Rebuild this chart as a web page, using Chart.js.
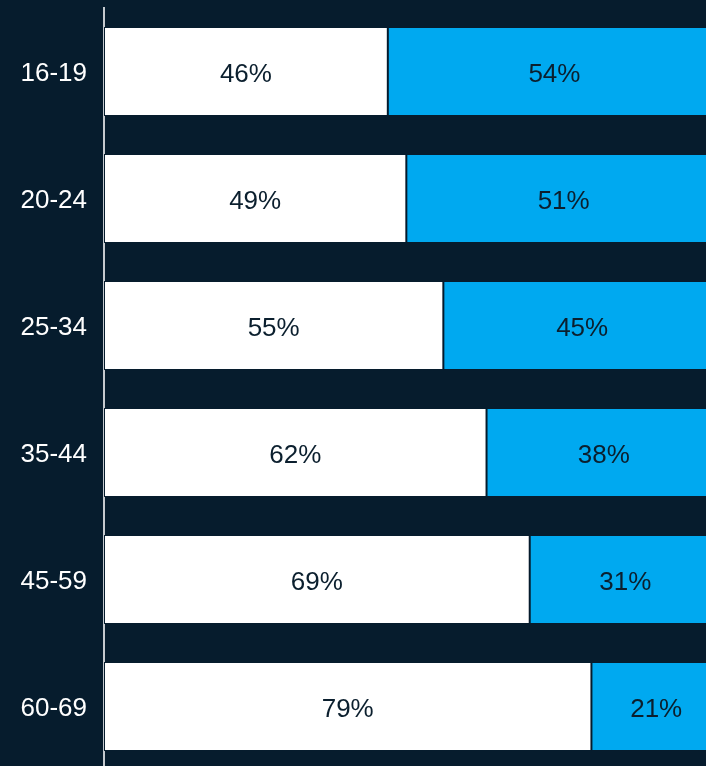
<!DOCTYPE html>
<html>
<head>
<meta charset="utf-8">
<script src="https://cdn.jsdelivr.net/npm/chart.js@4/dist/chart.umd.min.js"></script>
<style>
  html, body { margin: 0; padding: 0; background: #061c2d; overflow: hidden; }
  #wrap { width: 706px; height: 766px; overflow: hidden; }
</style>
</head>
<body>
<div id="wrap"><canvas id="ageChart" width="721" height="770"></canvas></div>
<script>
// age groups and the two shares per group (percent)
const ageGroups = ['16-19', '20-24', '25-34', '35-44', '45-59', '60-69'];
const whiteShare = [46, 49, 55, 62, 69, 79];
const blueShare = [54, 51, 45, 38, 31, 21];

const bgColor = '#061c2d';
const fontFamily = "'Liberation Sans', Arial, sans-serif";

// draws the % text in the middle of every segment
const segmentLabels = {
    id: 'segmentLabels',
    afterDatasetsDraw(chart) {
        const ctx = chart.ctx;
        ctx.save();
        ctx.font = '26px ' + fontFamily;
        ctx.fillStyle = '#0b1f2e';
        ctx.textAlign = 'center';
        ctx.textBaseline = 'middle';
        chart.data.datasets.forEach(function(ds, i) {
            chart.getDatasetMeta(i).data.forEach(function(bar, j) {
                const x = (bar.x + bar.base) / 2;
                ctx.fillText(ds.data[j] + '%', x, bar.y + 3);
            });
        });
        ctx.restore();
    }
};

new Chart(document.getElementById('ageChart'), {
    type: 'bar',
    data: {
        labels: ageGroups,
        datasets: [
            {
                data: whiteShare,
                backgroundColor: '#ffffff',
                borderColor: bgColor,
                borderWidth: 1,
                borderSkipped: false
            },
            {
                data: blueShare,
                backgroundColor: '#00a9f0',
                borderColor: bgColor,
                borderWidth: 1,
                borderSkipped: false
            }
        ]
    },
    options: {
        indexAxis: 'y',
        responsive: false,
        animation: false,
        layout: { padding: { top: 8, right: 0, bottom: 0, left: 0 } },
        datasets: { bar: { categoryPercentage: 1, barPercentage: 0.7 } },
        plugins: {
            legend: { display: false },
            tooltip: { enabled: false }
        },
        scales: {
            x: {
                stacked: true,
                display: false,
                min: 0,
                max: 100
            },
            y: {
                stacked: true,
                grid: { display: false, drawTicks: false },
                border: { display: true, color: '#c4c9ce', width: 2 },
                ticks: {
                    color: '#ffffff',
                    padding: 17,
                    labelOffset: 2,
                    font: { family: fontFamily, size: 26 }
                },
                afterFit: function(scale) {
                    scale.width = 104;
                    scale.paddingTop = 0;
                    scale.paddingBottom = 0;
                }
            }
        }
    },
    plugins: [segmentLabels]
});
</script>
</body>
</html>
